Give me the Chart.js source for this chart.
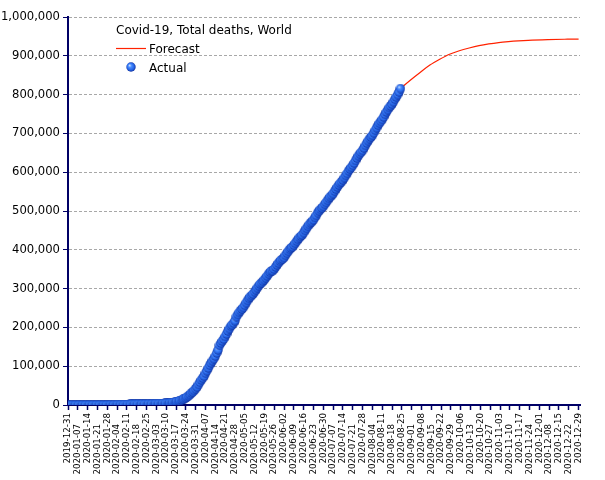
<!DOCTYPE html>
<html>
<head>
<meta charset="utf-8">
<script src="https://cdn.jsdelivr.net/npm/chart.js@4"></script>
<style>
  body { margin: 0; background: #fff; }
</style>
</head>
<body>
<canvas id="chart" width="605" height="480"></canvas>
<script>
const chartTitle = 'Covid-19, Total deaths, World';
const startDate = '2019-12-31';

// weekly tick labels on the x axis
const tickDates = [
  '2019-12-31', '2020-01-07', '2020-01-14', '2020-01-21', '2020-01-28', '2020-02-04',
  '2020-02-11', '2020-02-18', '2020-02-25', '2020-03-03', '2020-03-10', '2020-03-17',
  '2020-03-24', '2020-03-31', '2020-04-07', '2020-04-14', '2020-04-21', '2020-04-28',
  '2020-05-05', '2020-05-12', '2020-05-19', '2020-05-26', '2020-06-02', '2020-06-09',
  '2020-06-16', '2020-06-23', '2020-06-30', '2020-07-07', '2020-07-14', '2020-07-21',
  '2020-07-28', '2020-08-04', '2020-08-11', '2020-08-18', '2020-08-25', '2020-09-01',
  '2020-09-08', '2020-09-15', '2020-09-22', '2020-09-29', '2020-10-06', '2020-10-13',
  '2020-10-20', '2020-10-27', '2020-11-03', '2020-11-10', '2020-11-17', '2020-11-24',
  '2020-12-01', '2020-12-08', '2020-12-15', '2020-12-22', '2020-12-29'
];

// actual cumulative deaths, one value per day from 2019-12-31
const actualDeaths = [
  0,
  // January
  0, 0, 0, 0, 0, 0, 0, 0, 0, 0, 1, 1, 1, 1, 2, 2, 2, 3, 3, 4, 6, 17, 18, 26, 42, 56, 82, 131, 133, 171, 213,
  // February
  259, 362, 426, 492, 564, 634, 719, 806, 906, 1013, 1113, 1118, 1371, 1523, 1666, 1770, 1868, 2007, 2122,
  2247, 2251, 2458, 2469, 2629, 2708, 2770, 2814, 2872, 2941,
  // March
  2996, 3085, 3160, 3254, 3348, 3460, 3558, 3802, 3988, 4262, 4615, 4720, 5404, 5819, 6440, 7126, 7905,
  8733, 9867, 11299, 12973, 14623, 16497, 18615, 21181, 23970, 27198, 30652, 33925, 37582, 42107,
  // April
  46809, 52983, 58787, 64606, 69374, 74565, 81865, 88338, 95455, 102525, 108503, 114090, 119483, 125983,
  134177, 141919, 153822, 159510, 165044, 169985, 176583, 183027, 190858, 197159, 202846, 206567, 211167,
  217153, 227638, 233388,
  // May
  238650, 243401, 247503, 251537, 257239, 263855, 269567, 274855, 279311, 282709, 286330, 291942, 297197,
  302418, 307395, 312009, 315185, 318789, 323285, 328115, 332924, 338160, 342214, 345059, 346232, 350453,
  355692, 361215, 365868, 370439, 373439,
  // June
  376320, 380249, 385947, 391136, 396415, 401247, 404396, 407451, 411987, 417057, 422136, 426914, 431541,
  435166, 438399, 444328, 450111, 455314, 460587, 465222, 469587, 472856, 477292, 483305, 488717, 495759,
  500624, 504410, 507845, 511787,
  // July
  517313, 522305, 527484, 532528, 536727, 540147, 544946, 550904, 556466, 561941, 567176, 571659, 575226,
  580373, 586143, 591717, 597105, 603691, 608539, 612631, 617836, 624027, 630289, 636538, 642509, 647570,
  651688, 656093, 662839, 669062, 675130,
  // August
  681278, 686563, 690569, 694929, 701675, 708149, 714577, 721263, 726357, 731064, 736103, 742217, 749066,
  755213, 761436, 766882, 770917, 775454, 781689, 788095, 793962, 800100, 807000, 815500
];

// forecast curve
const forecastDates = [
  '2020-08-24', '2020-08-31', '2020-09-07', '2020-09-14', '2020-09-21', '2020-09-28', '2020-10-05',
  '2020-10-12', '2020-10-19', '2020-10-26', '2020-11-02', '2020-11-09', '2020-11-16', '2020-11-23',
  '2020-12-07', '2020-12-21', '2020-12-29'
];
const forecastDeaths = [
  815500, 837000, 857000, 876000, 891000, 904000, 913000,
  920000, 926000, 930500, 934000, 936500, 938500, 940000,
  941800, 942800, 943200
];

const yTicks = [0, 100000, 200000, 300000, 400000, 500000, 600000, 700000, 800000, 900000, 1000000];

const navy = '#000066';
const red = '#ff2200';

function dayIndex(d) {
  return Math.round((Date.parse(d) - Date.parse(startDate)) / 86400000);
}

// shaded blue ball used as the point marker
function makeBall() {
  const c = document.createElement('canvas');
  c.width = 10;
  c.height = 10;
  const g = c.getContext('2d');
  const grad = g.createRadialGradient(3.5, 3.3, 0.3, 5, 5, 5);
  grad.addColorStop(0, '#c4dcff');
  grad.addColorStop(0.3, '#4a8dff');
  grad.addColorStop(0.7, '#2362e4');
  grad.addColorStop(1, '#0f2a90');
  g.fillStyle = grad;
  g.beginPath();
  g.arc(5, 5, 4.7, 0, Math.PI * 2);
  g.fill();
  return c;
}
const ball = makeBall();

const actualPoints = actualDeaths.map((v, i) => ({ x: i, y: v }));
const forecastPoints = forecastDates.map((d, i) => ({ x: dayIndex(d), y: forecastDeaths[i] }));

const inlineLegend = {
  id: 'inlineLegend',
  afterDraw(chart) {
    const ctx = chart.ctx;
    const a = chart.chartArea;
    const x0 = a.left + 48;
    ctx.save();
    ctx.font = '12px "DejaVu Sans"';
    ctx.fillStyle = '#000';
    ctx.textBaseline = 'alphabetic';
    ctx.fillText(chartTitle, x0, a.top + 17);
    ctx.strokeStyle = red;
    ctx.lineWidth = 1.2;
    ctx.beginPath();
    ctx.moveTo(x0, a.top + 31.5);
    ctx.lineTo(x0 + 30, a.top + 31.5);
    ctx.stroke();
    ctx.fillText('Forecast', x0 + 33, a.top + 36);
    ctx.drawImage(ball, x0 + 10, a.top + 45);
    ctx.fillText('Actual', x0 + 33, a.top + 55);
    ctx.restore();
  }
};

new Chart(document.getElementById('chart'), {
  type: 'scatter',
  data: {
    datasets: [
      {
        label: 'Forecast',
        data: forecastPoints,
        showLine: true,
        borderColor: red,
        borderWidth: 1.2,
        pointRadius: 0,
        cubicInterpolationMode: 'monotone',
        order: 2
      },
      {
        label: 'Actual',
        data: actualPoints,
        showLine: false,
        pointStyle: ball,
        pointRadius: 5,
        order: 1
      }
    ]
  },
  options: {
    responsive: false,
    animation: false,
    devicePixelRatio: 1,
    layout: { padding: { top: 17, right: 25, left: 0, bottom: 0 } },
    plugins: {
      legend: { display: false },
      tooltip: { enabled: false }
    },
    scales: {
      x: {
        type: 'linear',
        min: 0,
        max: 365,
        afterBuildTicks: scale => {
          scale.ticks = tickDates.map(d => ({ value: dayIndex(d) }));
        },
        afterFit: scale => { scale.height = 75; },
        grid: {
          drawOnChartArea: false,
          drawTicks: true,
          tickLength: 5,
          tickColor: navy,
          tickWidth: 1.5
        },
        border: { color: navy, width: 2 },
        ticks: {
          autoSkip: false,
          minRotation: 90,
          maxRotation: 90,
          padding: 3,
          color: '#000',
          font: { family: 'DejaVu Sans', size: 8.7 },
          callback: v => {
            const i = tickDates.findIndex(d => dayIndex(d) === v);
            if (i < 0) return '';
            // every other label sits a little further down
            return i % 2 ? tickDates[i] + '    ' : tickDates[i];
          }
        }
      },
      y: {
        min: 0,
        max: 1000000,
        afterBuildTicks: scale => {
          scale.ticks = yTicks.map(v => ({ value: v }));
        },
        afterFit: scale => { scale.width = 68; },
        grid: {
          color: '#a8a8a8',
          tickColor: navy,
          tickLength: 5,
          tickBorderDash: [],
          lineWidth: 1
        },
        border: { color: navy, width: 2, dash: [3, 2] },
        ticks: {
          padding: 3,
          color: '#000',
          font: { family: 'DejaVu Sans', size: 11.6 },
          callback: v => v.toLocaleString('en-US')
        }
      }
    }
  },
  plugins: [inlineLegend]
});
</script>
</body>
</html>
